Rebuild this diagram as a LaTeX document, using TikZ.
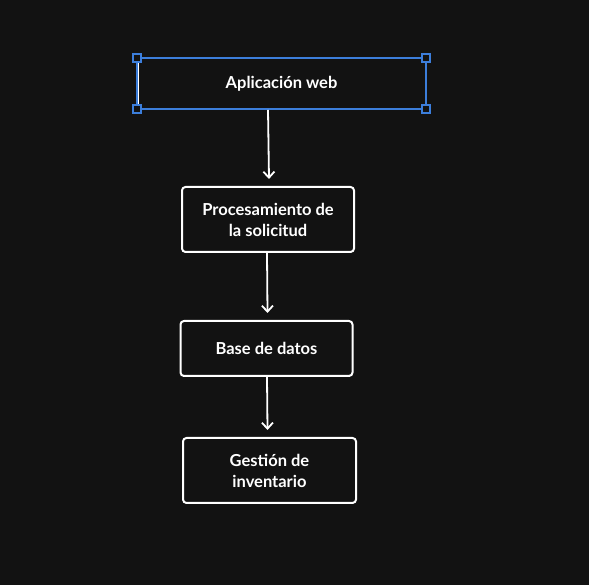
\documentclass[tikz,border=0pt]{standalone}
\usepackage{fontspec}
\setmainfont{Lato}
\usetikzlibrary{arrows.meta}
\definecolor{bg}{HTML}{121212}
\definecolor{selblue}{HTML}{3C7EDB}
\begin{document}
\begin{tikzpicture}[x=1pt,y=1pt,
  box/.style={draw=white, line width=2pt, rounded corners=3.5pt, fill=bg, text=white,
    font=\fontsize{16.5}{21}\selectfont\bfseries, align=center, inner sep=0pt},
  conn/.style={draw=white, line width=1.8pt, -{Straight Barb[length=6pt,width=11pt]}},
  handle/.style={draw=selblue, fill=bg, line width=1.5pt, minimum size=8pt, inner sep=0pt}]
\fill[bg] (0,0) rectangle (589,585);
\useasboundingbox (0,0) rectangle (589,585);
% top node (selected)
\node[box, rounded corners=0pt, minimum width=288pt, minimum height=51pt] (a) at (281.5,501.5) {Aplicación web};
\draw[selblue, line width=1.4pt] (137,527) rectangle (426,476);
\node[handle] (h1) at (137,527) {};
\node[handle] (h2) at (426,527) {};
\node[handle] (h3) at (137,476) {};
\node[handle] (h4) at (426,476) {};
\node[box, minimum width=172pt, minimum height=65pt] (b) at (268,365.5) {Procesamiento de\\la solicitud};
\node[box, minimum width=172pt, minimum height=55pt] (c) at (266.5,236.5) {Base de datos};
\node[box, minimum width=173pt, minimum height=65pt] (d) at (269.5,114.5) {Gestión de\\inventario};
\draw[conn] (a.south) ++(-13.5,0) coordinate (a1) -- ([xshift=1pt,yshift=7pt]b.north);
\draw[conn] ([xshift=-1pt]b.south) -- ([xshift=1pt,yshift=7pt]c.north);
\draw[conn] ([xshift=0.5pt]c.south) -- ([xshift=-2pt,yshift=7pt]d.north);
\end{tikzpicture}
\end{document}
